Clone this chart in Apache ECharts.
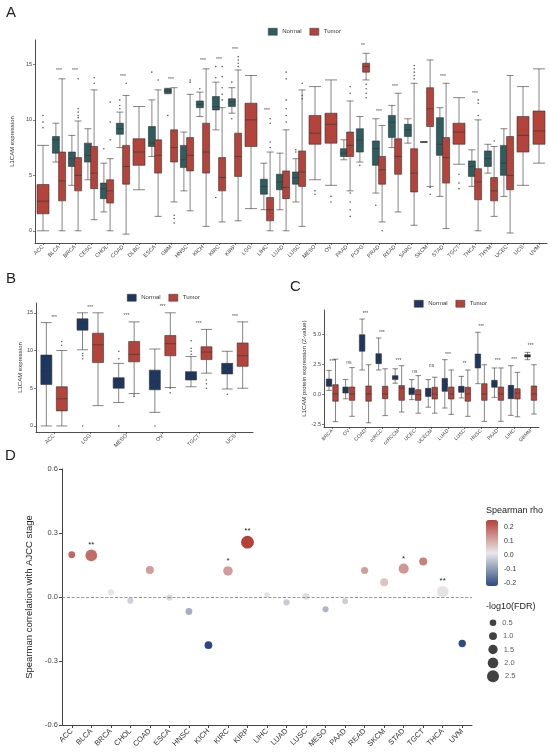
<!DOCTYPE html>
<html><head><meta charset="utf-8">
<script src="https://cdn.jsdelivr.net/npm/echarts@6/dist/echarts.min.js"></script>
<style>html,body{margin:0;padding:0;background:#fff}#c{width:550px;height:752px}</style>
</head><body><div id="c"></div>
<script>
// ---------------- Panel A ----------------
const catsA = ['ACC','BLCA','BRCA','CESC','CHOL','COAD','DLBC','ESCA','GBM','HNSC','KICH','KIRC','KIRP','LGG','LIHC','LUAD','LUSC','MESO','OV','PAAD','PCPG','PRAD','READ','SARC','SKCM','STAD','TGCT','THCA','THYM','UCEC','UCS','UVM'];
// [min, Q1, median, Q3, max]
const normalA = [null,[6.2,7.0,8.2,8.5,9.7],[4.1,5.8,6.5,7.1,8.6],[4.6,6.2,6.8,7.9,9.2],[1.7,2.9,3.8,4.3,6.1],[7.5,8.7,9.2,9.7,10.7],null,[6.7,7.6,7.9,9.4,11.8],[12.35,12.4,12.6,12.8,12.85],[3.6,5.7,6.4,7.7,8.9],[10.3,11.1,11.4,11.7,12.5],[9.1,10.9,11.2,12.1,13.4],[10.6,11.2,11.6,11.9,12.9],null,[1.9,3.3,4.0,4.65,6.1],[1.9,3.7,4.4,5.1,7.0],[2.6,4.2,4.8,5.3,6.5],null,null,[6.4,6.7,7.0,7.4,8.2],[6.2,7.1,8.2,9.2,10.3],[3.4,5.9,7.4,8.1,10.1],[7.5,8.4,9.8,10.4,11.3],[7.9,8.5,9.1,9.6,10.1],[8.0,8.0,8.0,8.0,8.0],[3.1,6.8,7.8,10.2,11.1],null,[4.0,4.9,5.8,6.3,7.3],[5.2,5.8,6.5,7.2,7.8],[3.1,5.0,6.1,7.7,9.2],null,null];
const tumorA = [[0,1.53,2.67,4.17,7.7],[0,2.7,4.5,7.1,13.7],[0,3.6,5.0,6.6,9.9],[1.0,3.8,5.2,7.6,12.7],[0,2.5,3.6,4.6,6.5],[-0.3,4.2,5.8,7.7,12.2],[3.7,5.9,7.1,8.3,11.2],[1.3,5.2,6.8,8.2,12.7],[2.6,6.2,7.5,9.1,12.9],[1.8,5.4,6.8,8.4,12.3],[0.4,5.2,7.1,9.7,14.6],[0.8,3.6,4.8,6.6,11.1],[0.9,4.9,6.7,8.8,14.5],[2.0,7.6,10.0,11.5,14.0],[0,0.9,1.9,3.0,7.1],[0,2.9,3.9,5.4,9.1],[0.4,4.0,5.3,7.2,12.7],[4.6,7.8,8.8,10.4,13.0],[4.1,7.9,9.6,10.6,13.6],[3.6,6.7,7.7,8.9,11.7],[13.6,14.3,14.8,15.1,16.0],[0.8,4.2,5.5,6.7,9.5],[1.7,5.1,6.7,8.3,12.4],[0.5,3.5,5.2,7.4,13.3],[4.0,9.4,11.0,12.9,15.4],[0.2,4.3,6.6,8.4,13.3],[6.0,7.8,8.9,9.7,12.0],[0,2.8,4.4,5.6,10.0],[1.3,2.7,3.6,4.8,7.6],[-0.2,3.7,5.0,8.5,14.0],[4.1,7.1,8.6,10.3,13.0],[6.1,7.8,9.0,10.8,14.6]];
// outliers [categoryIndex, value]
const outNormalA = [[4,7.4],[5,11.8],[5,11.3],[5,11.0],[7,14.3],[8,10.4],[10,12.8],[11,14.8],[11,13.8],[11,3.0],[12,13.4],[12,10.1],[16,7.3],[16,7.1],[20,5.9],[21,2.3]];
const outTumorA = [[0,10.4],[0,9.8],[0,9.3],[2,13.7],[2,11.0],[2,10.7],[2,10.4],[2,10.2],[3,13.8],[3,13.3],[4,11.6],[4,9.8],[4,8.2],[5,13.3],[7,13.6],[8,1.4],[8,1.1],[8,0.7],[9,13.6],[9,13.4],[11,14.8],[11,13.9],[11,12.9],[11,12.3],[11,11.8],[12,15.7],[12,15.4],[12,15.1],[12,14.8],[14,10.1],[14,9.7],[14,8.0],[14,7.5],[15,14.3],[15,13.7],[15,11.8],[15,11.0],[15,10.4],[15,9.8],[16,13.3],[16,12.2],[16,11.9],[17,3.6],[17,3.3],[18,3.1],[18,2.6],[19,13.0],[19,12.4],[19,3.4],[19,2.6],[19,1.9],[19,1.3],[20,13.2],[20,12.8],[20,12.4],[20,12.0],[21,0.0],[23,14.9],[23,14.6],[23,14.3],[23,14.0],[23,13.7],[24,3.3],[24,3.9],[26,5.1],[26,4.3],[26,3.8],[27,11.8],[27,11.5],[27,10.4],[28,8.1]];
const starsA = [['BLCA',14.4,'***'],['BRCA',14.4,'***'],['COAD',13.9,'***'],['GBM',13.6,'***'],['KICH',15.3,'***'],['KIRC',15.4,'***'],['KIRP',16.3,'***'],['LIHC',10.8,'***'],['PCPG',16.7,'**'],['PRAD',10.7,'***'],['READ',13.0,'***'],['STAD',13.9,'***'],['THCA',12.4,'***']];
const ticksA = [0,5,10,15];

// ---------------- Panel B ----------------
const catsB = ['ACC','LGG','MESO','OV','TGCT','UCS'];
const normalB = [[0,5.5,7.3,9.4,13.7],[10.1,12.7,13.6,14.2,15.0],[3.1,5.0,5.9,6.4,8.3],[1.8,4.8,5.8,7.4,10.2],[5.2,6.1,6.5,7.2,9.2],[4.9,6.9,7.7,8.3,9.9]];
const tumorB = [[0,2.0,3.6,5.2,10.0],[2.7,8.4,10.75,12.3,15.0],[4.3,8.5,9.5,11.2,13.8],[5.1,9.3,10.9,12.0,15.0],[7.0,8.8,9.8,10.5,12.8],[5.0,7.9,9.3,11.0,13.8]];
const outNormalB = [[1,9.6],[1,9.3],[1,8.9],[1,0],[2,9.9],[2,8.9],[2,0],[3,0],[4,11.3],[4,10.3],[4,9.9],[4,9.5],[5,4.2]];
const outTumorB = [[0,11.2],[0,10.7],[2,4.1],[2,3.9],[3,5.0],[3,4.4],[4,6.1],[4,5.6],[4,5.0]];
const starsB = [['ACC',14.4,'***'],['LGG',15.7,'***'],['MESO',14.6,'***'],['OV',15.8,'***'],['TGCT',13.6,'***'],['UCS',14.5,'***']];
const ticksB = [0,5,10,15];

// ---------------- Panel C ----------------
const catsC = ['BRCA','OV','COAD','ccRCC','ccRCCM','UCEC','UCECM','LUAD','LUSC','HNSC','PAAD','LIHC','GBMM'];
const normalC = [[0.3,0.64,0.97,1.25,1.97],[-0.4,0.08,0.36,0.58,1.2],[2.0,3.56,4.4,4.94,6.25],[2.0,2.53,3.1,3.36,4.67],[0.9,1.2,1.4,1.53,2.1],[-0.47,-0.05,0.2,0.5,1.2],[-1.1,-0.2,0.08,0.47,1.2],[-1.17,0.22,0.78,1.3,2.86],[-0.33,0.14,0.42,0.64,1.47],[0.86,2.17,3.05,3.33,5.14],[-0.28,0.56,0.83,1.14,2.17],[-1.78,-0.39,0.3,0.72,2.36],[2.86,3.08,3.19,3.28,3.47]];
const tumorC = [[-2.3,-0.6,0,0.78,2.9],[-1.86,-0.53,0,0.58,2.2],[-2.4,-0.6,0,0.67,2.44],[-1.8,-0.39,0,0.64,2.1],[-1.5,-0.53,0.5,0.7,2.36],[-1.6,-0.53,-0.05,0.36,1.53],[-1.6,-0.42,0,0.56,1.4],[-1.7,-0.42,0,0.58,2.0],[-1.86,-0.6,0,0.56,2.0],[-2.28,-0.53,0,0.86,2.44],[-2.28,-0.53,0,0.58,2.17],[-1.9,-0.42,0.08,0.44,1.8],[-1.67,-0.53,0,0.67,2.44]];
const starsC = [['BRCA',2.7,'***'],['OV',2.6,'ns'],['COAD',6.7,'***'],['ccRCC',5.1,'***'],['ccRCCM',2.8,'***'],['UCEC',1.9,'ns'],['UCECM',2.4,'ns'],['LUAD',3.3,'***'],['LUSC',2.5,'**'],['HNSC',5.6,'***'],['PAAD',2.8,'***'],['LIHC',2.9,'***'],['GBMM',4.0,'***']];
const ticksC = [-2.5,0,2.5,5];

// ---------------- Panel D ----------------
const catsD = ['ACC','BLCA','BRCA','CHOL','COAD','ESCA','HNSC','KICH','KIRC','KIRP','LIHC','LUAD','LUSC','MESO','PAAD','READ','SKCM','STAD','TGCT','THCA','UVM'];
const rhoD = [0.198,0.195,0.022,-0.017,0.127,-0.003,-0.068,-0.226,0.122,0.257,0.009,-0.025,0.003,-0.058,-0.02,0.124,0.069,0.133,0.166,0.025,-0.218];
const fdrD = [0.6,2.4,0.4,0.3,1.0,0.3,0.6,0.9,1.6,2.8,0.1,0.4,0.6,0.3,0.2,0.7,1.0,1.8,1.0,2.3,0.8];
const sigD = ['','**','','','','','','','*','**','','','','','','','','*','','**',''];
const sizeLegend = [0.5,1.0,1.5,2.0,2.5];
const rhoTicks = [0.2,0.1,0.0,-0.1,-0.2];
const rhoMin = -0.221, rhoMax = 0.256;

// ---------------- styles ----------------
const FONT = 'Liberation Sans, Arial, sans-serif';
const cTeal = '#2e5d60', cNavy = '#1d3761', cRed = '#b4443b';
const sizeFn = v => 5.25 + 2.7 * v;
const empty = ['-','-','-','-','-'];
const bx = arr => arr.map(v => v ? v : empty);
const lineS = {show:true, onZero:false, lineStyle:{color:'#222', width:0.8}};
const tickS = {show:true, length:2, lineStyle:{color:'#222', width:0.6}};

function catAxis(grid, data, fs, show) {
  return {type:'category', gridIndex:grid, data:data, show:show, boundaryGap:true,
    axisLine:lineS, axisTick:Object.assign({alignWithLabel:true}, tickS),
    axisLabel:{rotate:45, fontSize:fs, color:'#444', margin:3, interval:0, fontFamily:FONT},
    splitLine:{show:false}};
}
function hiddenVal(grid, n) {
  return {type:'value', gridIndex:grid, show:false, min:-0.5, max:n-0.5, splitLine:{show:false}, axisLine:{onZero:false}};
}
function valAxis(grid, min, max, ticks, name, gap, fmt) {
  return {type:'value', gridIndex:grid, min:min, max:max, name:name, nameLocation:'middle', nameGap:gap,
    nameTextStyle:{fontSize:6, color:'#333', fontFamily:FONT},
    axisLine:lineS, axisTick:Object.assign({customValues:ticks}, tickS),
    axisLabel:{customValues:ticks, fontSize:5.5, color:'#444', margin:3, fontFamily:FONT, formatter:fmt},
    splitLine:{show:false}};
}
function boxS(name, xi, yi, data, color, w) {
  return {type:'boxplot', name:name, xAxisIndex:xi, yAxisIndex:yi, data:data, boxWidth:[w,w],
    itemStyle:{color:color, borderColor:'#333', borderWidth:0.6}, silent:true, animation:false};
}
function outS(name, xi, yi, pts, off) {
  return {type:'scatter', name:name+'-out', xAxisIndex:xi, yAxisIndex:yi, symbolSize:1.6, silent:true,
    itemStyle:{color:'#333'}, data:pts.map(p => [p[0] + off(p[0]), p[1]]), animation:false};
}
function starS(xi, yi, arr, fs) {
  return {type:'scatter', name:'stars', xAxisIndex:xi, yAxisIndex:yi, symbolSize:1, silent:true,
    itemStyle:{color:'rgba(0,0,0,0)'}, data:arr.map(s => [s[0], s[1]]),
    label:{show:true, position:'inside', fontSize:fs, color:'#222', fontFamily:FONT,
      formatter:p => arr[p.dataIndex][2]}, animation:false};
}

const tumorPairA = tumorA.map((v,i) => normalA[i] ? v : null);
const tumorSingleA = tumorA.map((v,i) => normalA[i] ? null : v);

// colour bar geometry (visualMap placement)
const vmLeft = 486, vmTop = 520, vmH = 66, vmW = 12;

const option = {
  backgroundColor:'#fff',
  animation:false,
  textStyle:{fontFamily:FONT},
  grid:[
    {left:35, top:40, width:512, height:203},
    {left:36, top:303, width:217, height:129},
    {left:324, top:310, width:215, height:117},
    {left:62, top:469, width:410, height:256},
    {left:486, top:616, width:14, height:67}
  ],
  xAxis:[
    catAxis(0, catsA, 5.5, true),
    catAxis(0, catsA, 5.5, false),
    hiddenVal(0, catsA.length),
    catAxis(1, catsB, 5.5, true),
    hiddenVal(1, catsB.length),
    catAxis(2, catsC, 5, true),
    hiddenVal(2, catsC.length),
    {type:'category', gridIndex:3, data:catsD, boundaryGap:true,
      axisLine:{show:true, onZero:false, lineStyle:{color:'#444', width:1}},
      axisTick:{show:true, length:3, alignWithLabel:true, lineStyle:{color:'#444'}},
      axisLabel:{rotate:45, fontSize:7.5, color:'#333', margin:5, interval:0, fontFamily:FONT},
      splitLine:{show:false}},
    {type:'value', gridIndex:4, show:false, min:-1, max:1}
  ],
  yAxis:[
    valAxis(0, -1.1, 17.2, ticksA, 'L1CAM expression', 12),
    valAxis(1, -0.8, 16.3, ticksB, 'L1CAM expression', 11),
    valAxis(2, -2.75, 7.0, ticksC, 'L1CAM protein expression (Z-value)', 12, v => v.toFixed(1)),
    {type:'value', gridIndex:3, min:-0.6, max:0.6, interval:0.3,
      name:'Spearman correlation with AJCC stage', nameLocation:'middle', nameGap:24,
      nameTextStyle:{fontSize:9.5, color:'#222', fontFamily:FONT},
      axisLine:{show:true, onZero:false, lineStyle:{color:'#444', width:1}},
      axisTick:{show:true, length:3, lineStyle:{color:'#444'}},
      axisLabel:{fontSize:7.5, color:'#444', margin:4, formatter:v => v.toFixed(1), fontFamily:FONT},
      splitLine:{show:false}},
    {type:'category', gridIndex:4, show:false, inverse:true, data:sizeLegend.map(v => v.toFixed(1))}
  ],
  legend:[
    {left:263, top:23, itemWidth:9, itemHeight:7, itemGap:8, icon:'rect', textStyle:{fontSize:6, color:'#333'},
      data:[{name:'Normal', itemStyle:{color:cTeal, borderColor:'#333', borderWidth:0.5}}, {name:'Tumor', itemStyle:{color:cRed, borderColor:'#333', borderWidth:0.5}}]},
    {left:122, top:289, itemWidth:9, itemHeight:7, itemGap:8, icon:'rect', textStyle:{fontSize:6, color:'#333'},
      data:[{name:'Normal', itemStyle:{color:cNavy, borderColor:'#333', borderWidth:0.5}}, {name:'Tumor', itemStyle:{color:cRed, borderColor:'#333', borderWidth:0.5}}]},
    {left:409, top:295, itemWidth:9, itemHeight:7, itemGap:8, icon:'rect', textStyle:{fontSize:6, color:'#333'},
      data:[{name:'Normal', itemStyle:{color:cNavy, borderColor:'#333', borderWidth:0.5}}, {name:'Tumor', itemStyle:{color:cRed, borderColor:'#333', borderWidth:0.5}}]}
  ],
  visualMap:[{
    type:'continuous', seriesIndex:15, dimension:1, min:rhoMin, max:rhoMax,
    left:vmLeft, top:vmTop, itemWidth:vmW, itemHeight:vmH, padding:0, calculable:false, realtime:false,
    hoverLink:false, text:null, showLabel:false,
    inRange:{color:['#2c4a80','#e9e8e8','#b5403a']}
  }],
  graphic:[
    {type:'text', left:6, top:5, style:{text:'A', fontSize:15, fill:'#222', fontFamily:FONT}},
    {type:'text', left:6, top:271, style:{text:'B', fontSize:15, fill:'#222', fontFamily:FONT}},
    {type:'text', left:290, top:279, style:{text:'C', fontSize:15, fill:'#222', fontFamily:FONT}},
    {type:'text', left:5, top:448, style:{text:'D', fontSize:15, fill:'#222', fontFamily:FONT}},
    {type:'text', left:486, top:506, style:{text:'Spearman rho', fontSize:9, fill:'#222', fontFamily:FONT}},
    {type:'text', left:486, top:602, style:{text:'-log10(FDR)', fontSize:9, fill:'#222', fontFamily:FONT}}
  ].concat(rhoTicks.map(v => ({type:'text', left:vmLeft + vmW + 6,
      top: vmTop + (rhoMax - v) / (rhoMax - rhoMin) * vmH - 4,
      style:{text:v.toFixed(1), fontSize:7, fill:'#333', fontFamily:FONT}}))),
  series:[
    // Panel A (0-5)
    boxS('Normal', 0, 0, bx(normalA), cTeal, 7),
    boxS('Tumor', 0, 0, bx(tumorPairA), cRed, 7),
    boxS('Tumor', 1, 0, bx(tumorSingleA), cRed, 12),
    outS('Normal', 2, 0, outNormalA, i => -0.2),
    outS('Tumor', 2, 0, outTumorA, i => normalA[i] ? 0.2 : 0),
    starS(0, 0, starsA, 5),
    // Panel B (6-10)
    boxS('Normal', 3, 1, bx(normalB), cNavy, 11),
    boxS('Tumor', 3, 1, bx(tumorB), cRed, 11),
    outS('Normal', 4, 1, outNormalB, i => -0.21),
    outS('Tumor', 4, 1, outTumorB, i => 0.21),
    starS(3, 1, starsB, 5),
    // Panel C (11-14)
    boxS('Normal', 5, 2, bx(normalC), cNavy, 5.5),
    boxS('Tumor', 5, 2, bx(tumorC), cRed, 5.5),
    starS(5, 2, starsC, 5),
    {type:'scatter', name:'none', xAxisIndex:6, yAxisIndex:2, data:[], silent:true},
    // Panel D (15)
    {type:'scatter', name:'rho', xAxisIndex:7, yAxisIndex:3, silent:true,
      data:catsD.map((c,i) => [c, rhoD[i], fdrD[i]]),
      symbolSize:(v) => sizeFn(v[2]),
      itemStyle:{opacity:1},
      label:{show:true, position:'top', distance:1, fontSize:8, color:'#222', fontFamily:FONT,
        formatter:p => sigD[p.dataIndex]},
      markLine:{silent:true, symbol:'none', label:{show:false},
        lineStyle:{type:'dashed', color:'#808080', width:0.8}, data:[{yAxis:0}]}},
    // size legend (16)
    {type:'scatter', name:'sizeLegend', xAxisIndex:8, yAxisIndex:4, silent:true,
      data:sizeLegend.map(v => [0, v.toFixed(1), v]),
      symbolSize:(v) => sizeFn(v[2]),
      itemStyle:{color:'#111'},
      label:{show:true, position:'right', distance:6, fontSize:7.5, color:'#333', fontFamily:FONT,
        formatter:p => sizeLegend[p.dataIndex].toFixed(1)}}
  ]
};
const chart = echarts.init(document.getElementById('c'), null, {renderer:'canvas'});
chart.setOption(option);
</script></body></html>
